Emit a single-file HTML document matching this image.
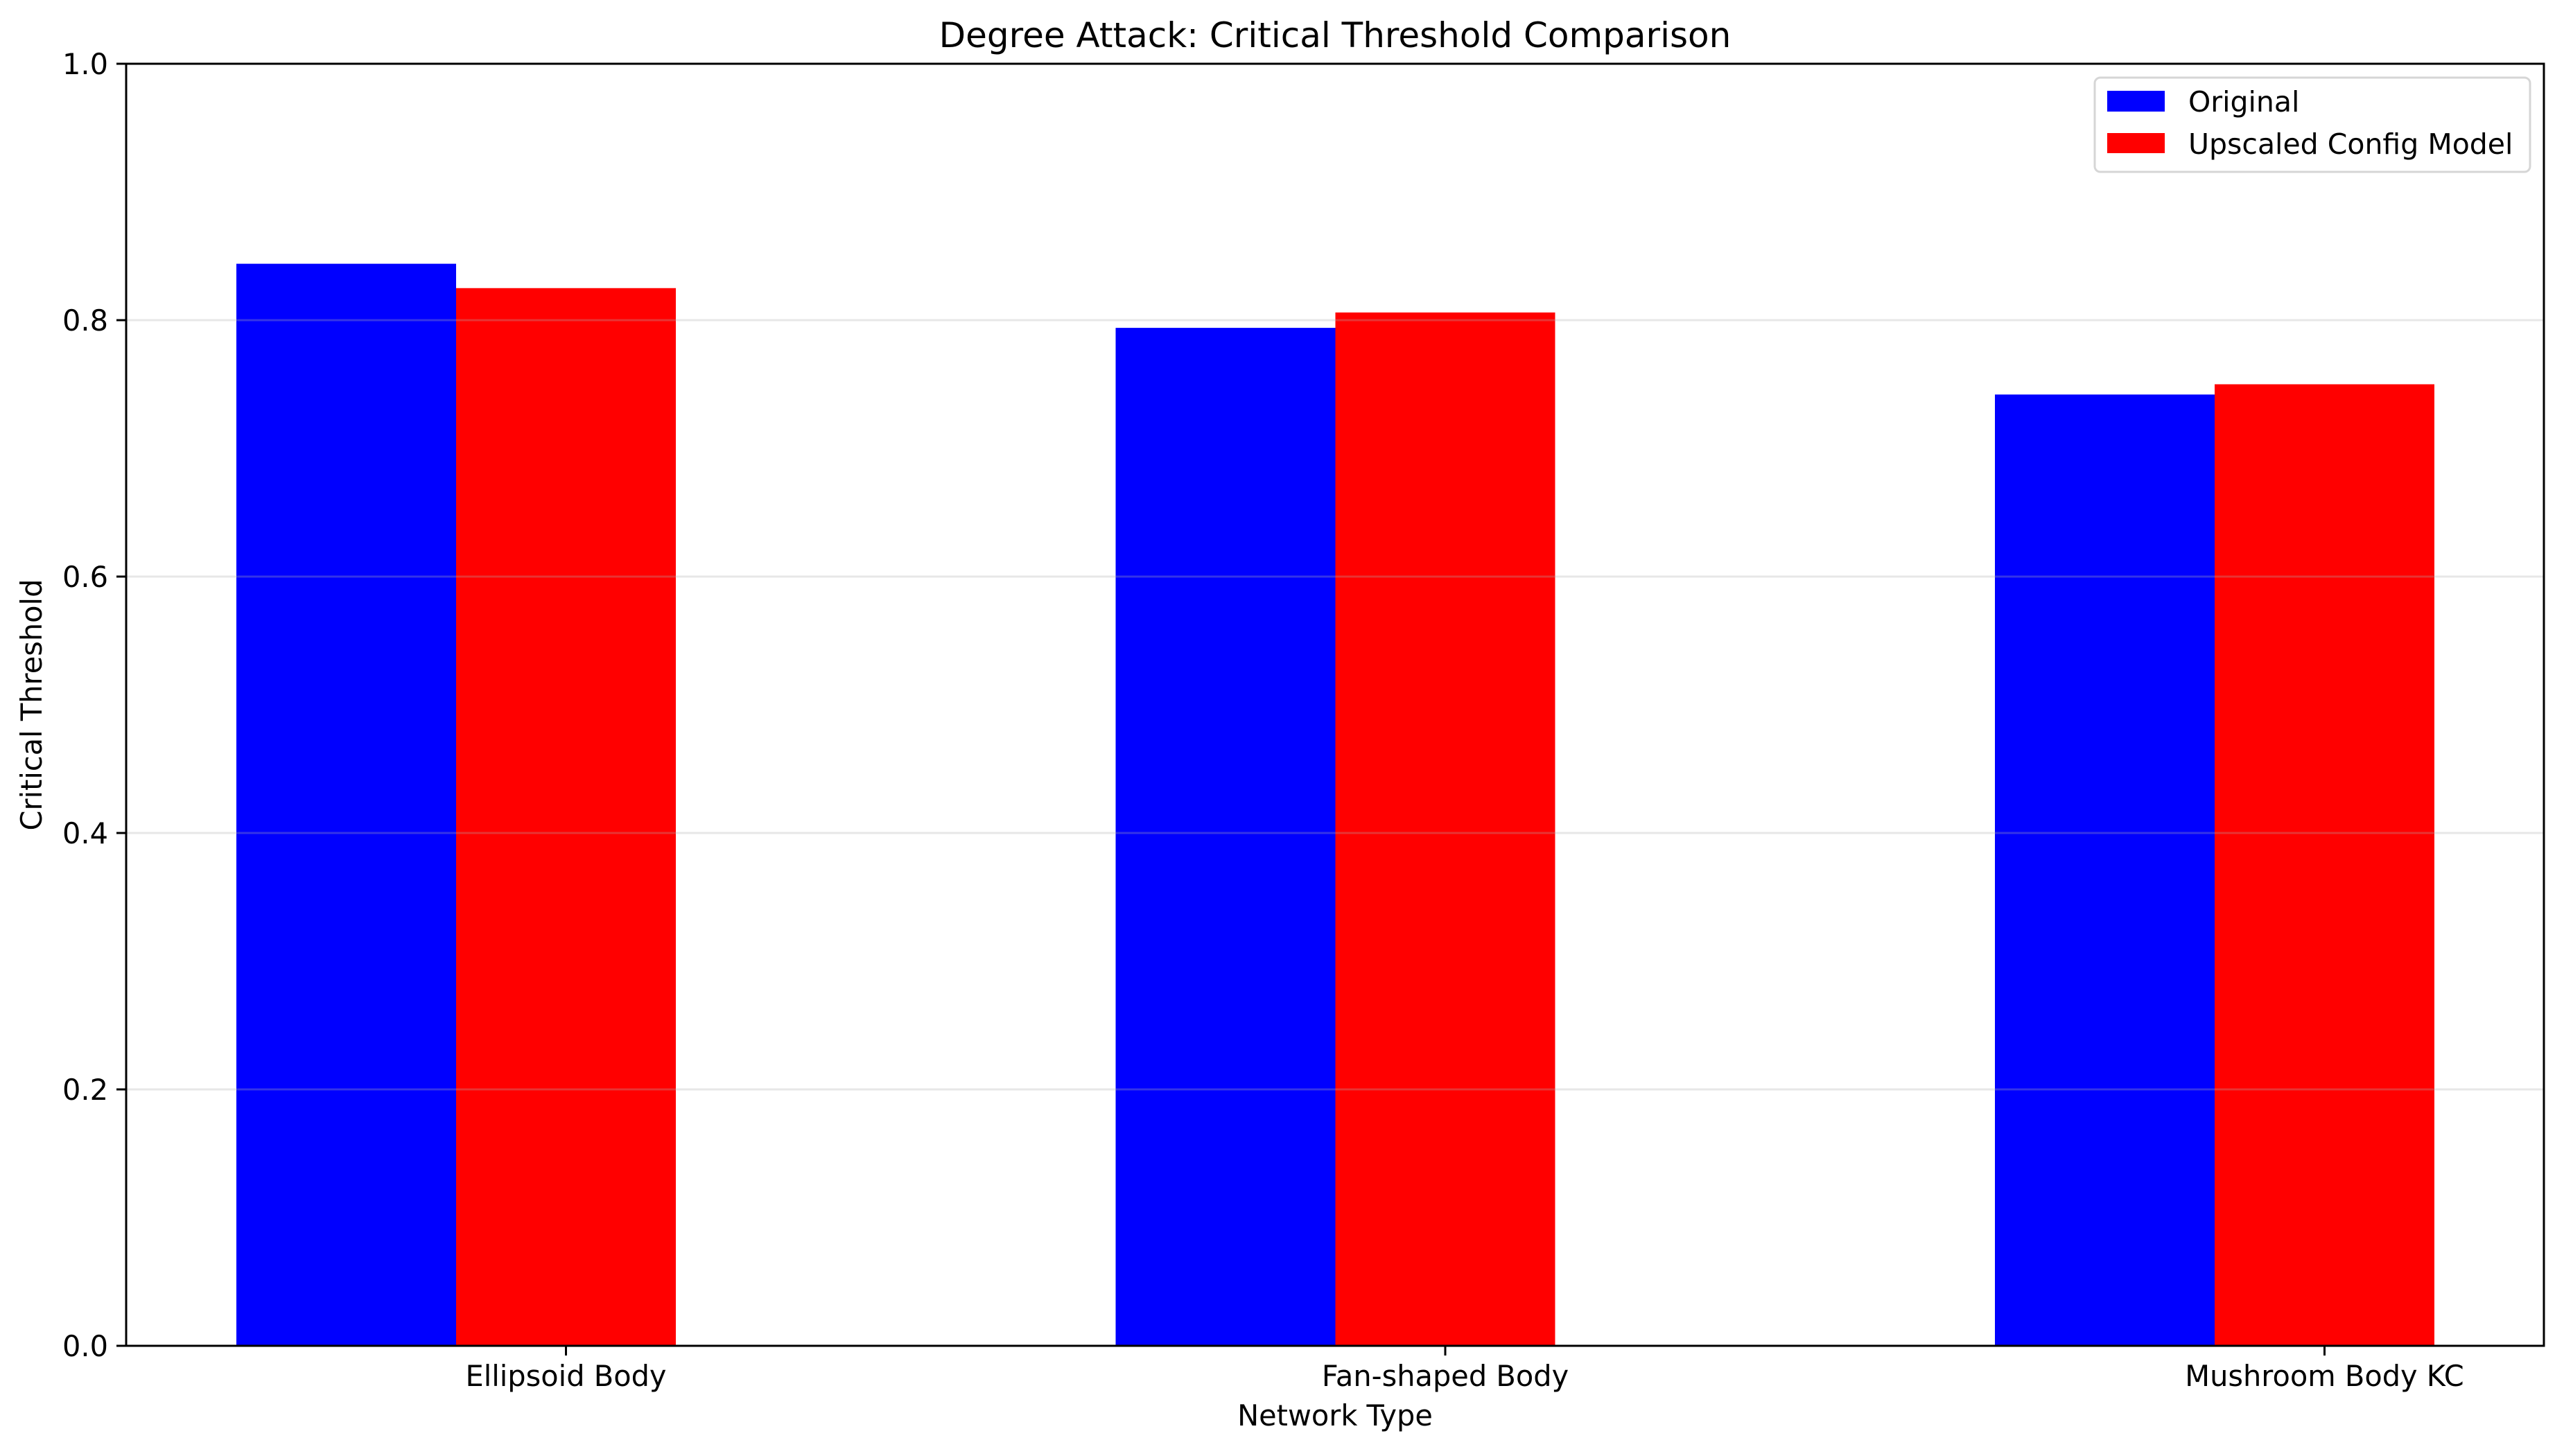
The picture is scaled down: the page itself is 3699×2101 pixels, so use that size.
<!DOCTYPE html>
<html><head><meta charset="utf-8"><style>
html,body{margin:0;padding:0;background:#fff;}
svg text{font-family:"DejaVu Sans","Liberation Sans",sans-serif;fill:#000;}
</style></head><body>
<svg id="chart" width="3699" height="2096" viewBox="0 0 3699 2096" xmlns="http://www.w3.org/2000/svg">
<rect width="3699" height="2096" fill="#fff"/>
<text x="1926" y="68" font-size="50" text-anchor="middle">Degree Attack: Critical Threshold Comparison</text>
<g id="grid"></g>
<g id="bars"></g>
<g id="gridtop"></g>
<rect x="182" y="92" width="3488" height="1850" fill="none" stroke="#000" stroke-width="3"/>
<g id="yticks"></g>
<g id="xticks"></g>
<text x="1926" y="2057" font-size="41.5" text-anchor="middle">Network Type</text>
<text transform="translate(60,1017) rotate(-90)" font-size="41.5" text-anchor="middle">Critical Threshold</text>
<g>
<rect x="3022" y="112" width="628" height="136" rx="8" fill="#fff" fill-opacity="0.8" stroke="#d6d6d6" stroke-width="3"/>
<rect x="3040" y="131" width="83" height="30" fill="#0000ff"/>
<text x="3157" y="161" font-size="41">Original</text>
<rect x="3040" y="192" width="83" height="29" fill="#ff0000"/>
<text x="3157" y="222" font-size="41">Upscaled Config Model</text>
</g>
</svg>
<script>
const categories = ["Ellipsoid Body", "Fan-shaped Body", "Mushroom Body KC"];
const originalValues = [0.844, 0.794, 0.742];
const upscaledValues = [0.825, 0.806, 0.750];
const yTicks = [0.0, 0.2, 0.4, 0.6, 0.8, 1.0];
const yTickLabels = ["0.0", "0.2", "0.4", "0.6", "0.8", "1.0"];

const NS = "http://www.w3.org/2000/svg";
const plotLeft = 182, plotRight = 3670, plotTop = 92, plotBottom = 1942;
const catStep = 1268.5, firstLeft = 341, barW = 317;
function yScale(v){ return plotBottom - v * (plotBottom - plotTop); }
function xCat(i){ return firstLeft + i * catStep; }
function mk(tag, attrs){ const e = document.createElementNS(NS, tag); for (const k in attrs) e.setAttribute(k, attrs[k]); return e; }

const bars = document.getElementById("bars");
const grid = document.getElementById("gridtop");
const yt = document.getElementById("yticks");
const xt = document.getElementById("xticks");

categories.forEach((c, i) => {
  const x0 = xCat(i);
  const b = mk("rect", {x: x0, y: yScale(originalValues[i]), width: barW, height: yScale(0) - yScale(originalValues[i]), fill: "#0000ff"});
  
  
  bars.appendChild(b);
  const r = mk("rect", {x: x0 + barW, y: yScale(upscaledValues[i]), width: barW, height: yScale(0) - yScale(upscaledValues[i]), fill: "#ff0000"});
  
  
  bars.appendChild(r);
  const tx = x0 + barW * 1.5;
  const tk = mk("line", {x1: tx, x2: tx, y1: plotBottom, y2: plotBottom + 14, stroke: "#000", "stroke-width": 3});
  
  
  xt.appendChild(tk);
  const tl = mk("text", {x: tx, y: 2000, "font-size": 41.5, "text-anchor": "middle"});
  tl.textContent = c;
  
  
  xt.appendChild(tl);
});

yTicks.forEach((v, i) => {
  const y = yScale(v);
  if (v > 0 && v < 1) {
    const g = mk("line", {x1: plotLeft, x2: plotRight, y1: y, y2: y, stroke: "#b0b0b0", "stroke-opacity": 0.3, "stroke-width": 3});
    
    
    grid.appendChild(g);
  }
  const tk = mk("line", {x1: plotLeft - 14, x2: plotLeft, y1: y, y2: y, stroke: "#000", "stroke-width": 3});
  
  
  yt.appendChild(tk);
  const tl = mk("text", {x: plotLeft - 26, y: y + 15, "font-size": 41.5, "text-anchor": "end"});
  tl.textContent = yTickLabels[i];
  
  
  yt.appendChild(tl);
});
</script>
</body></html>
